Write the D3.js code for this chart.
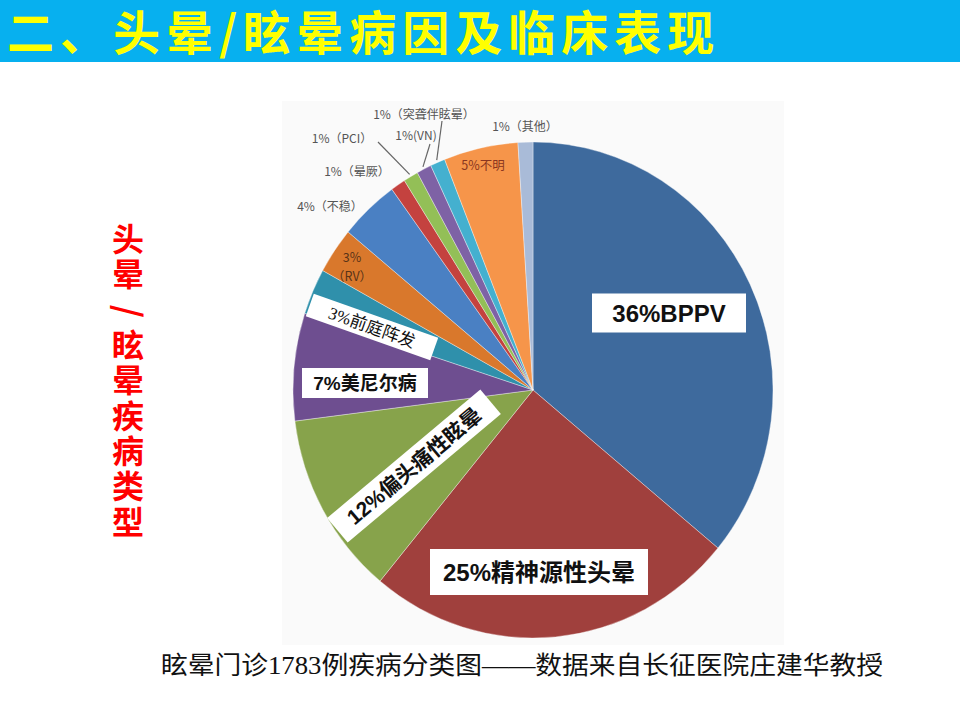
<!DOCTYPE html>
<html>
<head>
<meta charset="utf-8">
<script src="https://cdn.jsdelivr.net/npm/d3@7"></script>
<style>
  body { margin: 0; background: #fff; }
  svg { display: block; }
</style>
</head>
<body>
<div id="chart"></div>
<script>
// Slices, clockwise from 12 o'clock.
const categories = ["BPPV", "精神源性头晕", "偏头痛性眩晕", "美尼尔病", "前庭阵发", "RV",
    "不稳", "晕厥", "PCI", "VN", "突聋伴眩晕", "不明", "其他"];
const percents = [36, 25, 12, 7, 3, 3, 4, 1, 1, 1, 1, 5, 1];
const sliceColors = ["#3e6a9d", "#a0403d", "#87a34b", "#6e4e90", "#2f90ab", "#d9782c",
    "#4a80c3", "#c4423f", "#93bf57", "#7e62a5", "#44b0cf", "#f6954a", "#a9bbd8"];

const titleText = "二、头晕/眩晕病因及临床表现";
const sideTitle = ["头晕", "/", "眩晕疾病类型"];
const caption = "眩晕门诊1783例疾病分类图——数据来自长征医院庄建华教授";

function createPieChart(width, height) {
    // Pie geometry (the source image is slightly squeezed horizontally).
    const cx = 533, cy = 390;
    const rx = 240, ry = 248;

    const svg = d3.create("svg")
        .attr("width", width)
        .attr("height", height)
        .attr("viewBox", [0, 0, width, height]);

    // Title bar.
    svg.append("rect")
        .attr("width", width)
        .attr("height", 62)
        .attr("fill", "#07b0ef");
    svg.append("text")
        .attr("x", 7)
        .attr("y", 50)
        .attr("fill", "#ffff00")
        .attr("font-family", "'Noto Sans CJK SC', sans-serif")
        .attr("font-weight", 700)
        .attr("font-size", 47)
        .attr("letter-spacing", 6)
        .text(titleText);

    // Faint background of the pasted picture.
    svg.append("rect")
        .attr("x", 282).attr("y", 101)
        .attr("width", 502).attr("height", 544)
        .attr("fill", "#fafafa");

    // Side title, written vertically; the slash is turned on its side.
    const pitch = 35.3, top = 223;
    let slot = 0;
    sideTitle.forEach(part => {
        if (part === "/") {
            svg.append("text")
                .attr("transform", `translate(128,${top + slot * pitch + pitch / 2}) rotate(90)`)
                .attr("text-anchor", "middle")
                .attr("dy", "0.36em")
                .attr("fill", "#ff0000")
                .attr("font-family", "'Noto Sans CJK SC', sans-serif")
                .attr("font-weight", 700)
                .attr("font-size", 34)
                .text(part);
            slot += 1;
        } else {
            svg.append("text")
                .attr("x", 128)
                .attr("y", top + slot * pitch)
                .attr("fill", "#ff0000")
                .attr("font-family", "'Noto Sans CJK SC', sans-serif")
                .attr("font-weight", 700)
                .attr("font-size", 32)
                .attr("letter-spacing", pitch - 32)
                .style("writing-mode", "vertical-rl")
                .text(part);
            slot += part.length;
        }
    });

    // Pie.
    const pie = d3.pie().sort(null).value(d => d)(percents);
    const arc = d3.arc().innerRadius(0).outerRadius(ry);

    const g = svg.append("g")
        .attr("transform", `translate(${cx},${cy}) scale(${rx / ry},1)`);
    g.selectAll("path")
        .data(pie)
        .join("path")
        .attr("d", arc)
        .attr("fill", (d, i) => sliceColors[i])
        .attr("stroke", "#ffffff")
        .attr("stroke-opacity", 0.45)
        .attr("stroke-width", 0.8)
        .attr("vector-effect", "non-scaling-stroke");

    // Point on the (squeezed) rim at a slice's mid angle.
    function rimPoint(i, k) {
        const a = (pie[i].startAngle + pie[i].endAngle) / 2;
        return [cx + rx * k * Math.sin(a), cy - ry * k * Math.cos(a)];
    }

    // Boxed labels (white boxes as in the source picture).
    const boxed = [
        { i: 0, text: "36%BPPV", x: 669, y: 313, w: 154, h: 39, size: 24, bold: true, rot: 0 },
        { i: 1, text: "25%精神源性头晕", x: 539, y: 572, w: 218, h: 46, size: 24, bold: true, rot: 0 },
        { i: 3, text: "7%美尼尔病", x: 365, y: 383, w: 126, h: 30, size: 19, bold: true, rot: 0 },
        { i: 2, text: "12%偏头痛性眩晕", x: 414, y: 466, w: 200, h: 32, size: 21, bold: true, rot: -40 },
        { i: 4, text: "3%前庭阵发", x: 372, y: 327, w: 132, h: 24, size: 17, bold: false, rot: 19.5 }
    ];
    boxed.forEach(b => {
        const lg = svg.append("g")
            .attr("transform", `translate(${b.x},${b.y}) rotate(${b.rot})`);
        lg.append("rect")
            .attr("x", -b.w / 2).attr("y", -b.h / 2)
            .attr("width", b.w).attr("height", b.h)
            .attr("fill", "#ffffff");
        lg.append("text")
            .attr("text-anchor", "middle")
            .attr("dy", "0.36em")
            .attr("fill", "#111")
            .attr("font-family", b.bold ? "'Liberation Sans', 'Noto Sans CJK SC', sans-serif"
                : "'Liberation Serif', 'Noto Sans CJK SC', serif")
            .attr("font-weight", b.bold ? 700 : 400)
            .attr("font-size", b.size)
            .text(b.text);
    });

    // Labels inside the small orange slices.
    const inner = [
        { lines: ["3%", "（RV）"], x: 352, y: 262, fill: "#5a3418" },
        { lines: ["5%不明"], x: 483, y: 170, fill: "#8a3620" }
    ];
    inner.forEach(l => {
        l.lines.forEach((t, k) => {
            svg.append("text")
                .attr("x", l.x).attr("y", l.y + k * 19)
                .attr("text-anchor", "middle")
                .attr("fill", l.fill)
                .attr("font-family", "'Noto Sans CJK SC', sans-serif")
                .attr("font-size", 12.5)
                .text(t);
        });
    });

    // Small outside labels, some with leader lines to the rim.
    const outside = [
        { i: 10, text: "1%（突聋伴眩晕）", x: 424, y: 119, lead: [442, 121] },
        { i: 12, text: "1%（其他）", x: 525, y: 131 },
        { i: 8, text: "1%（PCI）", x: 342, y: 143, lead: [378, 142] },
        { i: 9, text: "1%(VN)", x: 416, y: 140, lead: [430, 144] },
        { i: 7, text: "1%（晕厥）", x: 357, y: 176 },
        { i: 6, text: "4%（不稳）", x: 330, y: 211 }
    ];
    outside.forEach(l => {
        svg.append("text")
            .attr("x", l.x).attr("y", l.y)
            .attr("text-anchor", "middle")
            .attr("fill", "#555")
            .attr("font-family", "'Noto Sans CJK SC', sans-serif")
            .attr("font-size", 12)
            .text(l.text);
        if (l.lead) {
            const [px, py] = rimPoint(l.i, 1.01);
            svg.append("line")
                .attr("x1", l.lead[0]).attr("y1", l.lead[1])
                .attr("x2", px).attr("y2", py)
                .attr("stroke", "#666")
                .attr("stroke-width", 1.2);
        }
    });

    // Caption.
    svg.append("text")
        .attr("x", 161)
        .attr("y", 674)
        .attr("fill", "#111")
        .attr("font-family", "'Liberation Serif', 'Noto Sans CJK SC', serif")
        .attr("font-size", 24.5)
        .attr("textLength", 722)
        .attr("lengthAdjust", "spacingAndGlyphs")
        .text(caption);

    return svg.node();
}

document.getElementById("chart").appendChild(createPieChart(960, 720));
</script>
</body>
</html>
